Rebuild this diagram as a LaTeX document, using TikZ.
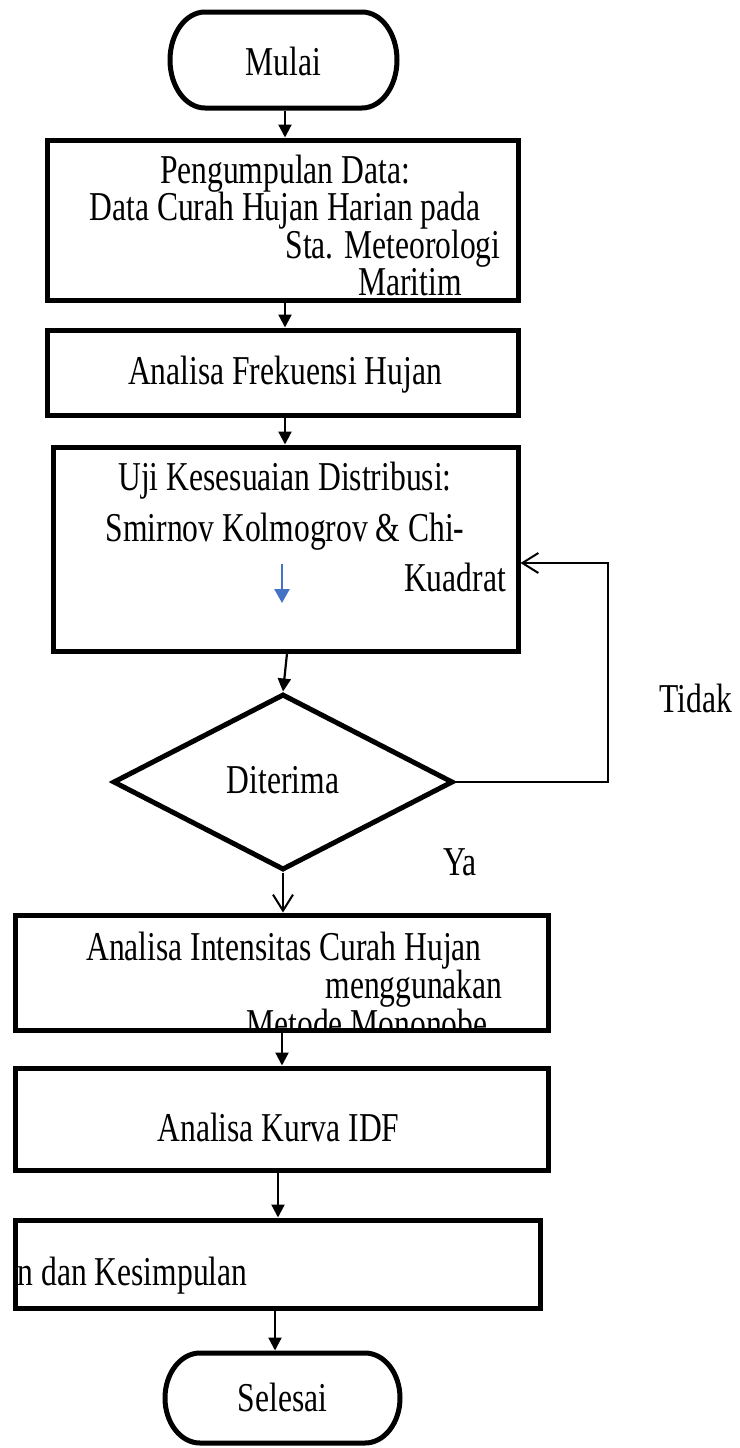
\documentclass[tikz,border=0pt]{standalone}
\usepackage{fontspec}
\setmainfont{Liberation Serif}
\usepackage{graphicx}
\usetikzlibrary{arrows.meta,shapes.geometric,calc}
\definecolor{bluearr}{RGB}{68,114,196}
\newcommand{\sq}[1]{\scalebox{0.77}[1]{#1}}
\begin{document}
\begin{tikzpicture}[x=1pt,y=-1pt,
  txt/.style={font=\fontsize{41}{49}\selectfont, inner sep=0pt, anchor=base},
  boxst/.style={draw, line width=5pt, rectangle, inner sep=0pt},
  termst/.style={line width=5pt, rectangle, inner sep=0pt},
  decst/.style={draw, line width=5pt, diamond, inner sep=0pt},
  arr/.style={line width=2.2pt, -{Triangle[width=13pt,length=13pt]}},
  oarr/.style={line width=2pt, -{Straight Barb[width=20pt,length=16pt,line width=2pt]}}
]
\useasboundingbox (0,0) rectangle (739,1448);

% terminals
\node[termst, minimum width=227, minimum height=96] (start) at (283.5,60) {};
\draw[line width=5pt] ($(start.north west)+(37.5,2.5)$) -- ($(start.north east)+(-37.5,2.5)$)
  arc[start angle=-90,end angle=90,x radius=35,y radius=48]
  -- ($(start.south west)+(37.5,-2.5)$)
  arc[start angle=90,end angle=270,x radius=35,y radius=48] -- cycle;
\node[txt] (tmulai) at (283.5,75) {\sq{Mulai}};

\node[termst, minimum width=235, minimum height=90] (stop) at (282.5,1398) {};
\draw[line width=5pt] ($(stop.north west)+(37.5,2.5)$) -- ($(stop.north east)+(-37.5,2.5)$)
  arc[start angle=-90,end angle=90,x radius=35,y radius=45]
  -- ($(stop.south west)+(37.5,-2.5)$)
  arc[start angle=90,end angle=270,x radius=35,y radius=45] -- cycle;
\node[txt] (tselesai) at (282.5,1411) {\sq{Selesai}};

% boxes
\node[boxst, minimum width=471, minimum height=160] (b1) at (282.5,220) {};
\node[txt] (t1a) at (285,183) {\sq{Pengumpulan Data:}};
\node[txt] (t1b) at (285,220) {\sq{Data Curah Hujan Harian pada}};
\node[txt] (t1c) at (393,258) {\sq{Sta. Meteorologi}};
\node[txt] (t1d) at (410,295) {\sq{Maritim}};

\node[boxst, minimum width=471, minimum height=85] (b2) at (282.5,372.5) {};
\node[txt] (t2) at (285,384) {\sq{Analisa Frekuensi Hujan}};

\node[boxst, minimum width=465, minimum height=204] (b3) at (285.5,549) {};
\node[txt] (t3a) at (285,490) {\sq{Uji Kesesuaian Distribusi:}};
\node[txt] (t3b) at (285,541) {\sq{Smirnov Kolmogrov \& Chi-}};
\node[txt] (t3c) at (455,591) {\sq{Kuadrat}};
\coordinate (bA) at (282,564);
\coordinate (bB) at (282,603);
\draw[line width=2.5pt, bluearr, -{Triangle[width=15pt,length=14pt]}] (bA) -- (bB);

\node[decst, minimum width=340, minimum height=176] (dia) at (283,782) {};
\node[txt] (tdia) at (283,793) {\sq{Diterima}};
\node[txt] (ttidak) at (696,712) {\sq{Tidak}};
\node[txt] (tya) at (460,875) {\sq{Ya}};

\node[boxst, minimum width=533, minimum height=115] (b4) at (281.5,972.5) {};
\node[txt] (t4a) at (284,960) {\sq{Analisa Intensitas Curah Hujan}};
\node[txt] (t4b) at (414,998) {\sq{menggunakan}};
\begin{scope}
  \clip (15,915) rectangle (548,1027.5);
  \node[txt] (t4c) at (367,1037) {\sq{Metode Mononobe}};
\end{scope}

\node[boxst, minimum width=533, minimum height=102] (b5) at (281.5,1119) {};
\node[txt] (t5) at (278.5,1141) {\sq{Analisa Kurva IDF}};

\node[boxst, minimum width=525, minimum height=88] (b6) at (277.5,1264) {};
\node[txt, anchor=base west] (t6) at (17.5,1285) {\sq{n dan Kesimpulan}};

% connectors
\draw[arr] ([xshift=1.5pt]start.south) -- ([xshift=2.5pt]b1.north);
\draw[arr] ([xshift=2.5pt]b1.south) -- ([xshift=2.5pt]b2.north);
\draw[arr] ([xshift=2.5pt]b2.south) -- ([xshift=-0.5pt]b3.north);
\draw[arr] ([xshift=1.5pt]b3.south) -- (dia.north);
\draw[oarr] (dia.south) -- ([xshift=1.5pt]b4.north);
\draw[arr] ([xshift=0.5pt]b4.south) -- ([xshift=0.5pt]b5.north);
\draw[arr] ([xshift=-3.5pt]b5.south) -- ([xshift=0.5pt]b6.north);
\draw[arr] ([xshift=-2.5pt]b6.south) -- ([xshift=-7.5pt]stop.north);
\coordinate (loopc) at (608,563);
\draw[oarr] (dia.east) -| (loopc) -- ([yshift=-14pt]b3.east);
\end{tikzpicture}
\end{document}
